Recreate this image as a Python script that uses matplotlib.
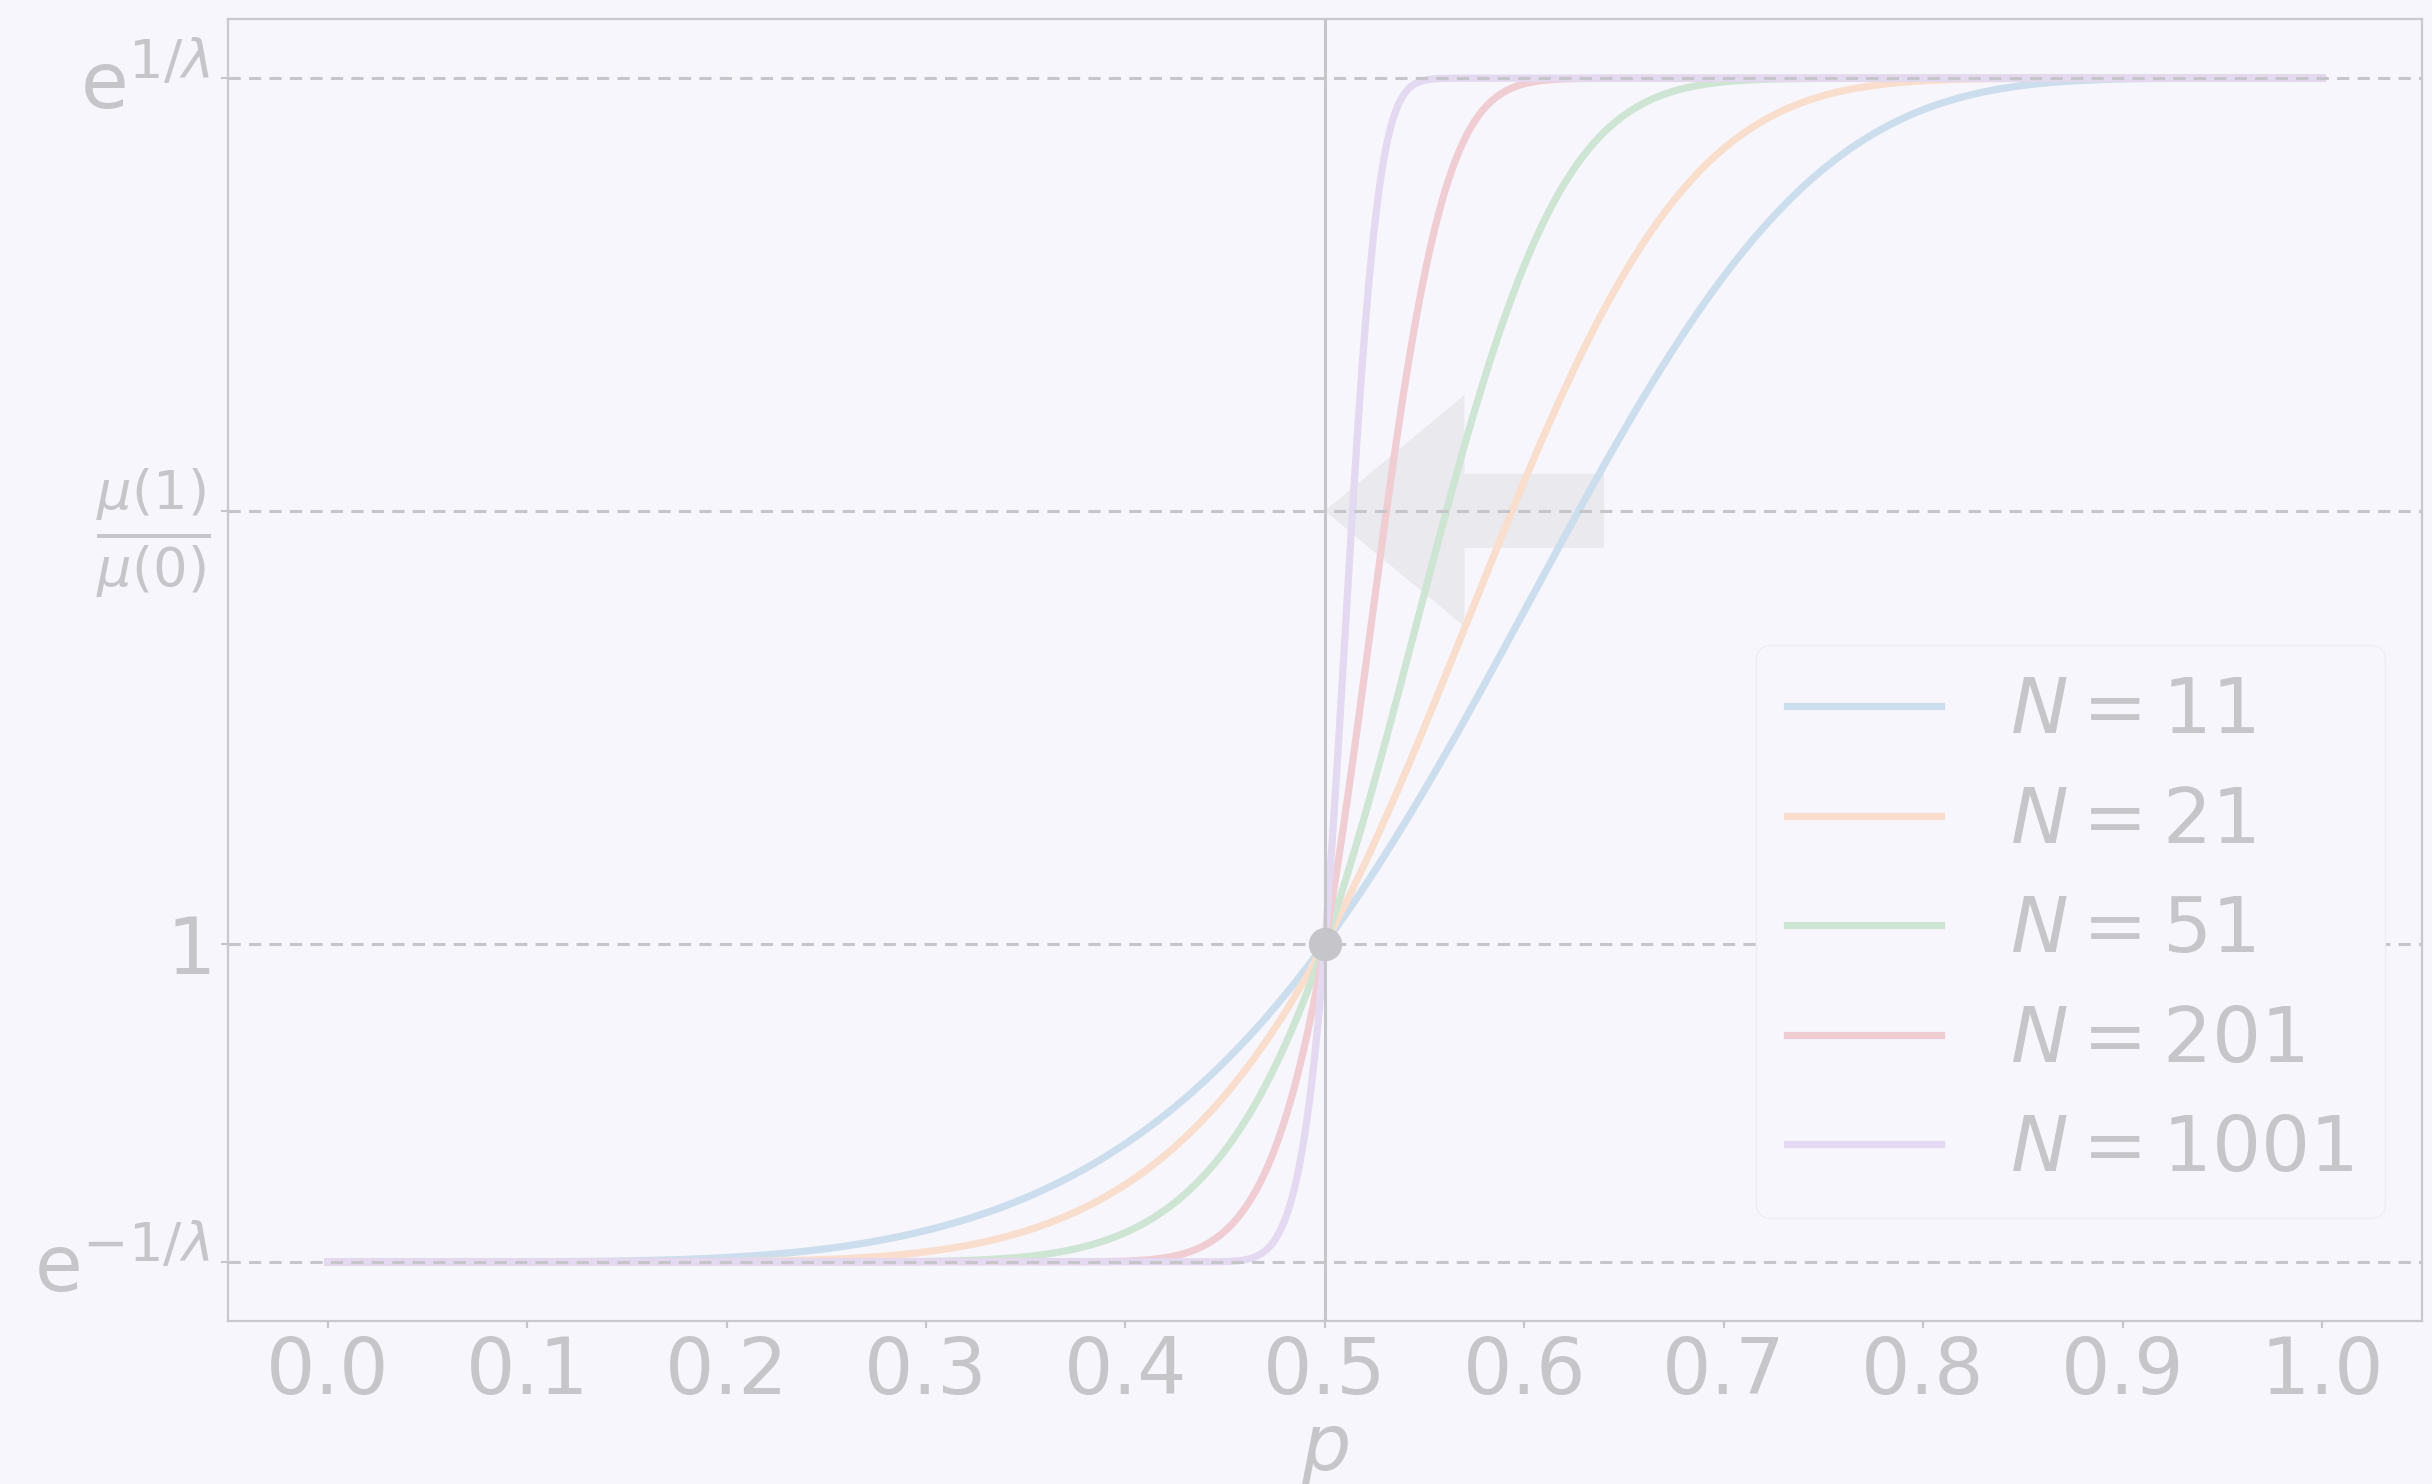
import math
import numpy as np
import matplotlib
matplotlib.use("Agg")
import matplotlib.pyplot as plt
from matplotlib.colors import to_rgb

# Committee sizes and temperature
sizes = [11, 21, 51, 201, 1001]
size_labels = [r"$N = 11$", r"$N = 21$", r"$N = 51$", r"$N = 201$", r"$N = 1001$"]
colors = ["#1f77b4", "#ff7f0e", "#2ca02c", "#d62728", "#9467bd"]
lam = 1.0

ytick_labels = [r"$\mathrm{e}^{-1/\lambda}$", r"$1$",
                r"$\frac{\mu(1)}{\mu(0)}$", r"$\mathrm{e}^{1/\lambda}$"]
xticks = [0.0, 0.1, 0.2, 0.3, 0.4, 0.5, 0.6, 0.7, 0.8, 0.9, 1.0]

BG = "#f7f6fd"
GREY = "#c5c5ca"


def faded(c, a=0.2):
    """Opaque colour equal to c laid over the background at opacity a."""
    c, b = np.array(to_rgb(c)), np.array(to_rgb(BG))
    return tuple(a * c + (1 - a) * b)


def majority_prob(n, p):
    """P(Bin(n, p) >= (n+1)/2)."""
    k = np.arange((n + 1) // 2, n + 1)
    logc = np.array([math.lgamma(n + 1) - math.lgamma(i + 1) - math.lgamma(n - i + 1) for i in k])
    out = np.empty_like(p)
    for j, pj in enumerate(p):
        if pj <= 0:
            out[j] = 0.0
        elif pj >= 1:
            out[j] = 1.0
        else:
            out[j] = np.exp(logc + k * np.log(pj) + (n - k) * np.log1p(-pj)).sum()
    return out


p = np.linspace(0, 1, 2001)
hi = math.exp(1 / lam)
lo = math.exp(-1 / lam)
mid = (1 + hi) / 2

fig = plt.figure(figsize=(24.32, 14.84), dpi=100, facecolor=BG)
ax = fig.add_axes([0.09375, 0.1098, 0.902, 0.8774], facecolor=BG)

for yv in [lo, 1.0, mid, hi]:
    ax.axhline(yv, color=GREY, lw=2.2, ls=(0, (4, 2.7)), zorder=3)
ax.axvline(0.5, color=GREY, lw=2.2, zorder=3)

ax.arrow(0.64, mid, -0.14, 0, width=0.147, head_width=0.46, head_length=0.07,
         length_includes_head=True, color="#e9e9ee", lw=0, zorder=1)

for n, lab, c in zip(sizes, size_labels, colors):
    y = np.exp((2 * majority_prob(n, p) - 1) / lam)
    ax.plot(p, y, color=faded(c), lw=5.2, label=lab, zorder=2)

ax.plot([0.5], [1.0], "o", color=GREY, ms=23, zorder=4)

ax.set_xticks(xticks)
ax.set_yticks([lo, 1.0, mid, hi])
ax.set_yticklabels(ytick_labels)
ax.set_xlabel(r"$p$", fontsize=56, color=GREY, labelpad=2)
ax.tick_params(axis="both", labelsize=56, colors=GREY, length=5, width=1.5, pad=4)
ax.tick_params(axis="y", pad=8)
for s in ax.spines.values():
    s.set_color("#c8c8cd")
    s.set_linewidth(1.6)

leg = ax.legend(loc="lower right", bbox_to_anchor=(0.9831, 0.0791), borderaxespad=0,
                fontsize=55.5, labelspacing=0.46, handletextpad=0.9,
                frameon=True, facecolor=BG, edgecolor="#ededf2", framealpha=1)
for t in leg.get_texts():
    t.set_color(GREY)
for h in leg.get_lines():
    h.set_linewidth(5.2)

fig.savefig("out.png", dpi=100, facecolor=BG)
